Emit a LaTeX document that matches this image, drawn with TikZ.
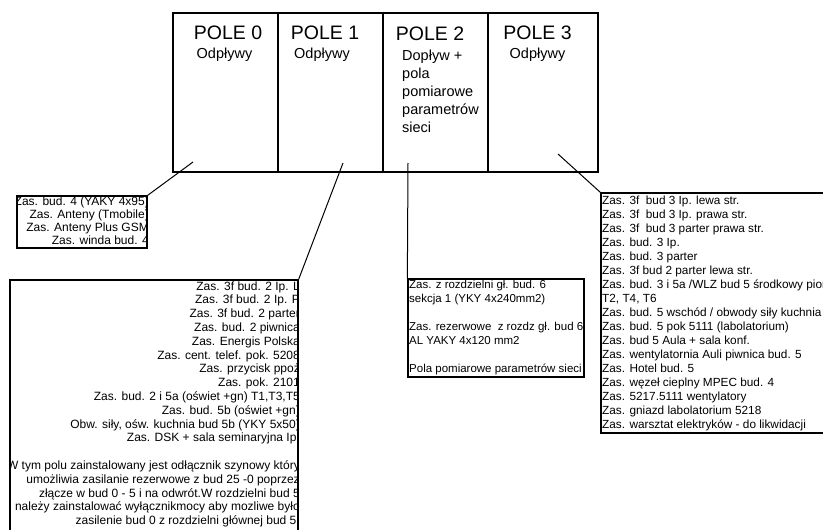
\documentclass[tikz,border=0pt]{standalone}
\usepackage{fontspec}
\setmainfont{Liberation Sans}
\begin{document}
\begin{tikzpicture}[x=1pt,y=-1pt,
  frame/.style={draw=black, line width=1.6pt, inner sep=0pt, rectangle},
  lbox/.style={draw=black, line width=1.3pt, inner sep=0pt, rectangle},
  conn/.style={draw=black, line width=1pt},
  small/.style={font=\fontsize{12}{13}\selectfont, inner sep=0pt},
  smaller/.style={font=\fontsize{11.5}{13}\selectfont, inner sep=0pt},
  rsmall/.style={font=\fontsize{11.8}{13}\selectfont, inner sep=0pt},
  title/.style={font=\fontsize{19.5}{22}\selectfont, inner sep=0pt, anchor=base},
  sub/.style={font=\fontsize{14.5}{18}\selectfont, inner sep=0pt},
]
\useasboundingbox[fill=white] (0,0) rectangle (823,530);

% top panel
\node[frame, minimum width=105pt, minimum height=159pt] (p0) at (225.5,92.5) {};
\node[frame, minimum width=105pt, minimum height=159pt] (p1) at (330.5,92.5) {};
\node[frame, minimum width=105pt, minimum height=159pt] (p2) at (435.5,92.5) {};
\node[frame, minimum width=110pt, minimum height=159pt] (p3) at (543,92.5) {};

\node[title] (t0) at (228,39.5) {POLE 0};
\node[title] (t1) at (325,39.5) {POLE 1};
\node[title] (t2) at (430,40.5) {POLE 2};
\node[title] (t3) at (537.5,39.5) {POLE 3};
\node[sub, anchor=base] (s0) at (224.5,58.3) {Odpływy};
\node[sub, anchor=base] (s1) at (322,58.3) {Odpływy};
\node[sub, anchor=base] (s3) at (537.5,58.3) {Odpływy};
\foreach \t [count=\i from 0] in {{Dopływ +},pola,pomiarowe,parametrów,sieci}
  \node[sub, anchor=base west] (s2\i) at (402,60.5+18*\i) {\t};

% boxes
\node[lbox, minimum width=130pt, minimum height=52pt] (sb) at (82,222) {};
\node[lbox, minimum width=288pt, minimum height=265pt] (lb) at (154,412.5) {};
\node[lbox, minimum width=176pt, minimum height=98pt] (mb) at (496,328) {};
\node[lbox, minimum width=234pt, minimum height=240pt] (rb) at (718,313) {};

% connectors
\coordinate (c0) at (193,162);
\coordinate (c1) at (343,163);
\coordinate (c2) at (408,163);
\coordinate (c3) at (558,154);
\draw[conn] (c0) -- (sb.north east);
\draw[conn] (c1) -- (lb.north east);
\draw[conn] (c2) -- (mb.north west);
\draw[conn] (c3) -- (rb.north west);

% small box text
\begin{scope}
\clip (sb.south west) rectangle (sb.north east);
\foreach \t [count=\i from 0] in {{Zas. bud. 4 (YAKY 4x95)},{Zas. Anteny (Tmobile)},{Zas. Anteny Plus GSM},{Zas. winda bud. 4}}
  \node[small, anchor=base east] (sbt\i) at (149,205+13*\i) {\t};
\end{scope}

% large left box text
\begin{scope}
\clip (lb.south west) rectangle (lb.north east);
\foreach \t [count=\i from 0] in {{Zas. 3f bud. 2 Ip. L},{Zas. 3f bud. 2 Ip. P},{Zas. 3f bud. 2 parter},{Zas. bud. 2 piwnica},{Zas. Energis Polska},{Zas. cent. telef. pok. 5208},{Zas. przycisk ppoż},{Zas. pok. 2101},{Zas. bud. 2 i 5a (oświet +gn) T1,T3,T5},{Zas. bud. 5b (oświet +gn)},{Obw. siły, ośw. kuchnia bud 5b (YKY 5x50)},{Zas. DSK + sala seminaryjna Ip.}}
  \node[small, anchor=base east] (lbt\i) at (300,290+13.8*\i) {\t};
\foreach \t [count=\i from 13] in {{W tym polu zainstalowany jest odłącznik szynowy który},{umożliwia zasilanie rezerwowe z bud 25 -0 poprzez},{złącze w bud 0 - 5 i na odwrót.W rozdzielni bud 5},{należy zainstalować wyłącznikmocy aby mozliwe było},{zasilenie bud 0 z rozdzielni głównej bud 5.}}
  \node[small, anchor=base east] (lbt\i) at (300,290+13.8*\i) {\t};
\end{scope}

% middle box text
\begin{scope}
\clip (mb.south west) rectangle (mb.north east);
\node[smaller, anchor=base west] (mbt0) at (409,288) {Zas. z rozdzielni gł. bud. 6};
\node[smaller, anchor=base west] (mbt1) at (409,302) {sekcja 1 (YKY 4x240mm2)};
\node[smaller, anchor=base west] (mbt3) at (409,330) {Zas. rezerwowe\ \ z rozdz gł. bud 6};
\node[smaller, anchor=base west] (mbt4) at (409,344) {AL YAKY 4x120 mm2};
\node[smaller, anchor=base west] (mbt6) at (409,372) {Pola pomiarowe parametrów sieci};
\end{scope}

% right box text
\begin{scope}
\clip (rb.south west) rectangle (rb.north east);
\foreach \t [count=\i from 0] in {{Zas. 3f\ \ bud 3 Ip. lewa str.},{Zas. 3f\ \ bud 3 Ip. prawa str.},{Zas. 3f\ \ bud 3 parter prawa str.},{Zas. bud. 3 Ip.},{Zas. bud. 3 parter},{Zas. 3f bud 2 parter lewa str.},{Zas. bud. 3 i 5a /WLZ bud 5 środkowy pion},{T2, T4, T6},{Zas. bud. 5 wschód / obwody siły kuchnia},{Zas. bud. 5 pok 5111 (labolatorium)},{Zas. bud 5 Aula + sala konf.},{Zas. wentylatornia Auli piwnica bud. 5},{Zas. Hotel bud. 5},{Zas. węzeł cieplny MPEC bud. 4},{Zas. 5217.5111 wentylatory},{Zas. gniazd labolatorium 5218},{Zas. warsztat elektryków - do likwidacji}}
  \node[rsmall, anchor=base west] (rbt\i) at (602,204+14*\i) {\t};
\end{scope}
\end{tikzpicture}
\end{document}
